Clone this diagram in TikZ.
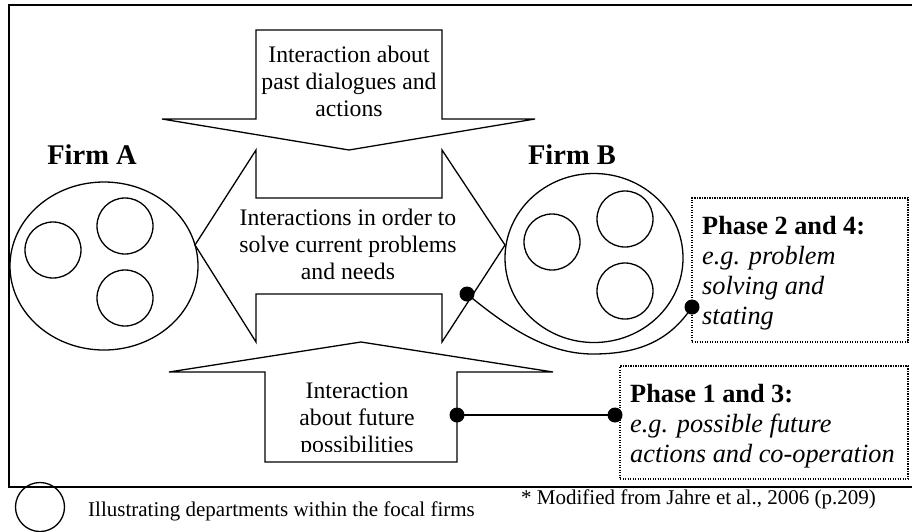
\documentclass[tikz,border=0pt]{standalone}
\usepackage{fontspec}
\setmainfont{Liberation Serif}
\usetikzlibrary{shapes.geometric}
% stacked lines whose reference point is the baseline of the first line
\newcommand\txtlines[2]{\begin{tabular}[t]{@{}#1@{}}#2\end{tabular}}
\begin{document}
\begin{tikzpicture}[x=1pt,y=-1pt,
  outline/.style={draw=black,line width=1.3pt,line join=miter},
  dept/.style={circle,draw=black,line width=1.3pt,minimum size=56pt,inner sep=0pt},
  firm/.style={ellipse,draw=black,line width=1.3pt,inner sep=0pt},
  firmlabel/.style={font=\fontsize{28.5}{32}\selectfont\bfseries,anchor=base,inner sep=0pt},
  bodytext/.style={font=\fontsize{23.7}{27}\selectfont,anchor=base,inner sep=0pt},
  phasebox/.style={draw=black,line width=1.2pt,dash pattern=on 1.2pt off 1.3pt,inner sep=0pt},
  phasetext/.style={font=\fontsize{26.3}{30.3}\selectfont,anchor=base west,inner sep=0pt},
  smalltext/.style={font=\fontsize{21}{24}\selectfont,anchor=base west,inner sep=0pt},
  dot/.style={circle,fill=black,minimum size=15pt,inner sep=0pt},
  link/.style={draw=black,line width=1.3pt}]
\useasboundingbox (0,0) rectangle (912,531);

% frame
\draw[line width=1.2pt] (912,5) -- (9,5) -- (9,487) -- (912,487);
\draw[line width=2pt] (9,5) -- (912,5);
\draw[line width=2pt] (9,487) -- (912,487);

% arrow pointing down: past dialogues
\draw[outline] (256,30) -- (442,30) -- (442,119) -- (535,119) -- (349,150)
  -- (162,119) -- (256,119) -- cycle;
% double arrow between the firms
\draw[outline] (195,245) -- (256,150) -- (256,198) -- (442,198) -- (442,150)
  -- (505,245) -- (442,342) -- (442,294) -- (256,294) -- (256,342) -- cycle;
% arrow pointing up: future possibilities
\draw[outline] (361,342) -- (553,372) -- (457,372) -- (457,462) -- (265,462)
  -- (265,372) -- (169,372) -- cycle;

% arrow texts
\node[bodytext] (pasttxt) at (349,62)
  {\txtlines{c}{Interaction about\\past dialogues and\\actions}};
\node[bodytext] (currenttxt) at (348,225)
  {\txtlines{c}{Interactions in order to\\solve current problems\\and needs}};
\begin{scope}
  \clip (265,372) rectangle (457,451);
  \node[bodytext] (futuretxt) at (357,398)
    {\txtlines{c}{Interaction\\about future\\possibilities}};
\end{scope}

% firm A
\node[firmlabel] (firmAlabel) at (92,164) {Firm A};
\node[firm,minimum width=188pt,minimum height=168pt] (firmA) at (104,266) {};
\node[dept] (a1) at (53,250) {};
\node[dept] (a2) at (125,226) {};
\node[dept] (a3) at (125,298) {};

% firm B
\node[firmlabel] (firmBlabel) at (572,164) {Firm B};
\node[firm,minimum width=178pt,minimum height=169pt] (firmB) at (594,258) {};
\node[dept] (b1) at (552,242) {};
\node[dept] (b2) at (625,219) {};
\node[dept] (b3) at (625,291) {};

% phase boxes
\node[phasebox,minimum width=216pt,minimum height=144pt] (box24) at (800,270) {};
\node[phasetext] (txt24) at (702,234)
  {\txtlines{l}{\textbf{Phase 2 and 4:}\\\textit{e.g. problem}\\\textit{solving and}\\\textit{stating}}};
\node[phasebox,minimum width=288pt,minimum height=113pt] (box13) at (764,422.5) {};
\node[phasetext] (txt13) at (630,402)
  {\txtlines{l}{\textbf{Phase 1 and 3:}\\\textit{e.g. possible future}\\\textit{actions and co-operation}}};

% connectors
\node[dot] (d1) at (467,294) {};
\node[dot] (d2) at (692,307) {};
\node[dot] (d3) at (457,415) {};
\node[dot] (d4) at (615,415) {};
\draw[link] (d1.center) .. controls (505,325) and (545,354) .. (593,354)
  .. controls (640,354) and (670,340) .. (d2.center);
\draw[link] (d3.center) -- (d4.center);

% legend and source
\node[dept,minimum size=49pt] (legendcirc) at (40,507) {};
\node[smalltext] (legendtxt) at (88,516) {Illustrating departments within the focal firms};
\node[smalltext] (sourcetxt) at (521,504) {* Modified from Jahre et al., 2006 (p.209)};
\end{tikzpicture}
\end{document}
